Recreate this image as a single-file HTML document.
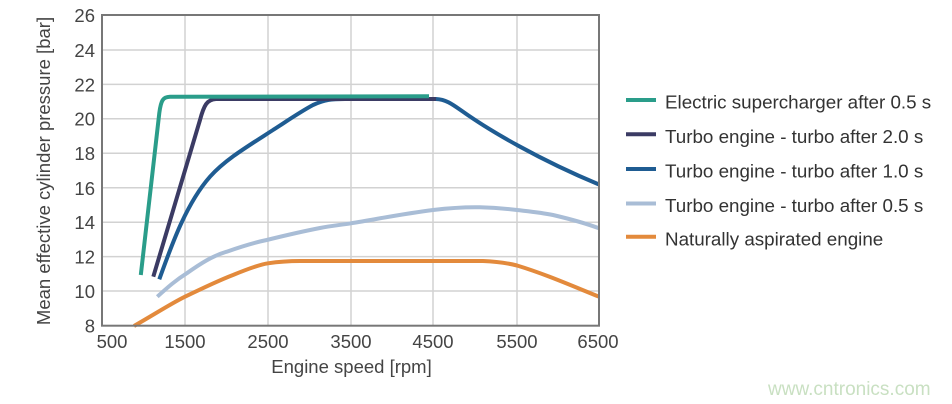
<!DOCTYPE html>
<html>
<head>
<meta charset="utf-8">
<style>
  html, body { margin: 0; padding: 0; background: #ffffff; }
  svg { display: block; }
  text { font-family: "Liberation Sans", Arial, sans-serif; }
</style>
</head>
<body>
<svg width="952" height="404" viewBox="0 0 952 404" xmlns="http://www.w3.org/2000/svg">
  <rect x="0" y="0" width="952" height="404" fill="#ffffff"/>

  <!-- grid -->
  <g stroke="#d2d2d2" stroke-width="1.5" fill="none">
    <line x1="185" y1="15" x2="185" y2="326"/>
    <line x1="268" y1="15" x2="268" y2="326"/>
    <line x1="351" y1="15" x2="351" y2="326"/>
    <line x1="433" y1="15" x2="433" y2="326"/>
    <line x1="517" y1="15" x2="517" y2="326"/>
    <line x1="102" y1="50" x2="599" y2="50"/>
    <line x1="102" y1="84.4" x2="599" y2="84.4"/>
    <line x1="102" y1="118.7" x2="599" y2="118.7"/>
    <line x1="102" y1="153.2" x2="599" y2="153.2"/>
    <line x1="102" y1="187.8" x2="599" y2="187.8"/>
    <line x1="102" y1="222.2" x2="599" y2="222.2"/>
    <line x1="102" y1="256.6" x2="599" y2="256.6"/>
    <line x1="102" y1="291" x2="599" y2="291"/>
  </g>

  <!-- series -->
  <g fill="none" stroke-width="4" stroke-linejoin="round" stroke-linecap="butt">
    <!-- Naturally aspirated -->
    <path stroke="#e38a3c" d="M134,326 C155,314 172,303 185,296.7 C205,287 220,280 233,275 C250,268 260,264.5 268,263.3 C280,261.5 290,261 300,261 L483,261 C495,261.5 505,262.5 517,265.5 C545,274 570,285 599,296.7"/>
    <!-- Turbo 0.5s -->
    <path stroke="#a9bdd6" d="M157.3,296.7 C168,287 176,280 186.7,273.3 C200,264 212,256 226.7,251.7 C240,247 252,243 266.7,240 C285,235.5 302,231.5 320,228 C330,226 340,225 351,223.3 C380,218.5 405,213.5 433,210 C450,208 465,207 480,207.3 C495,207.6 505,208.5 517,210 C530,211.5 541,212.5 553,215 C570,219 585,223 599,228.3"/>
    <!-- Turbo 1.0s -->
    <path stroke="#1f5c92" d="M159.3,279.3 C170,250 185,205 210,176.7 C225,160 245,148 273,130 C290,119 300,112 313,105 C325,99.5 332,99 345,99 L436,99 C446,99.5 452,104 462,111 C490,131 540,160 599,184.5"/>
    <!-- Turbo 2.0s -->
    <path stroke="#3b3b64" d="M153.3,276.7 L200,120 C204,105 207,99.5 216,99 L436,99"/>
    <!-- Electric supercharger -->
    <path stroke="#2a9d8a" d="M140.8,275 L159.3,113 C161,100 163,97 170,96.8 L429,96.3"/>
  </g>

  <!-- frame -->
  <rect x="102" y="15" width="497" height="310.7" fill="none" stroke="#777777" stroke-width="2"/>

  <!-- y tick labels -->
  <g font-size="18.5" fill="#444444" text-anchor="end">
    <text x="95" y="22">26</text>
    <text x="95" y="57">24</text>
    <text x="95" y="91.4">22</text>
    <text x="95" y="125.7">20</text>
    <text x="95" y="160.2">18</text>
    <text x="95" y="194.8">16</text>
    <text x="95" y="229.2">14</text>
    <text x="95" y="263.6">12</text>
    <text x="95" y="298">10</text>
    <text x="95" y="332.5">8</text>
  </g>

  <!-- x tick labels -->
  <g font-size="18.5" fill="#444444" text-anchor="middle">
    <text x="112" y="348">500</text>
    <text x="185" y="348">1500</text>
    <text x="268" y="348">2500</text>
    <text x="351" y="348">3500</text>
    <text x="433" y="348">4500</text>
    <text x="517" y="348">5500</text>
    <text x="598" y="348">6500</text>
  </g>

  <!-- axis titles -->
  <text x="351.5" y="373" font-size="18.5" fill="#444444" text-anchor="middle">Engine speed [rpm]</text>
  <text x="0" y="0" font-size="18.5" fill="#444444" text-anchor="middle" transform="translate(50,171) rotate(-90)">Mean effective cylinder pressure [bar]</text>

  <!-- legend -->
  <g stroke-width="4" fill="none">
    <line x1="626" y1="100" x2="656" y2="100" stroke="#2a9d8a"/>
    <line x1="626" y1="134.3" x2="656" y2="134.3" stroke="#3b3b64"/>
    <line x1="626" y1="169" x2="656" y2="169" stroke="#1f5c92"/>
    <line x1="626" y1="203.5" x2="656" y2="203.5" stroke="#a9bdd6"/>
    <line x1="626" y1="236.7" x2="656" y2="236.7" stroke="#e38a3c"/>
  </g>
  <g font-size="18.8" fill="#333333">
    <text x="665" y="108.5">Electric supercharger after 0.5 s</text>
    <text x="665" y="142.8">Turbo engine - turbo after 2.0 s</text>
    <text x="665" y="177.5">Turbo engine - turbo after 1.0 s</text>
    <text x="665" y="212">Turbo engine - turbo after 0.5 s</text>
    <text x="665" y="245.5">Naturally aspirated engine</text>
  </g>

  <!-- watermark -->
  <text x="768" y="395" font-size="19" fill="#c9e0c2">www.cntronics.com</text>
</svg>
</body>
</html>
